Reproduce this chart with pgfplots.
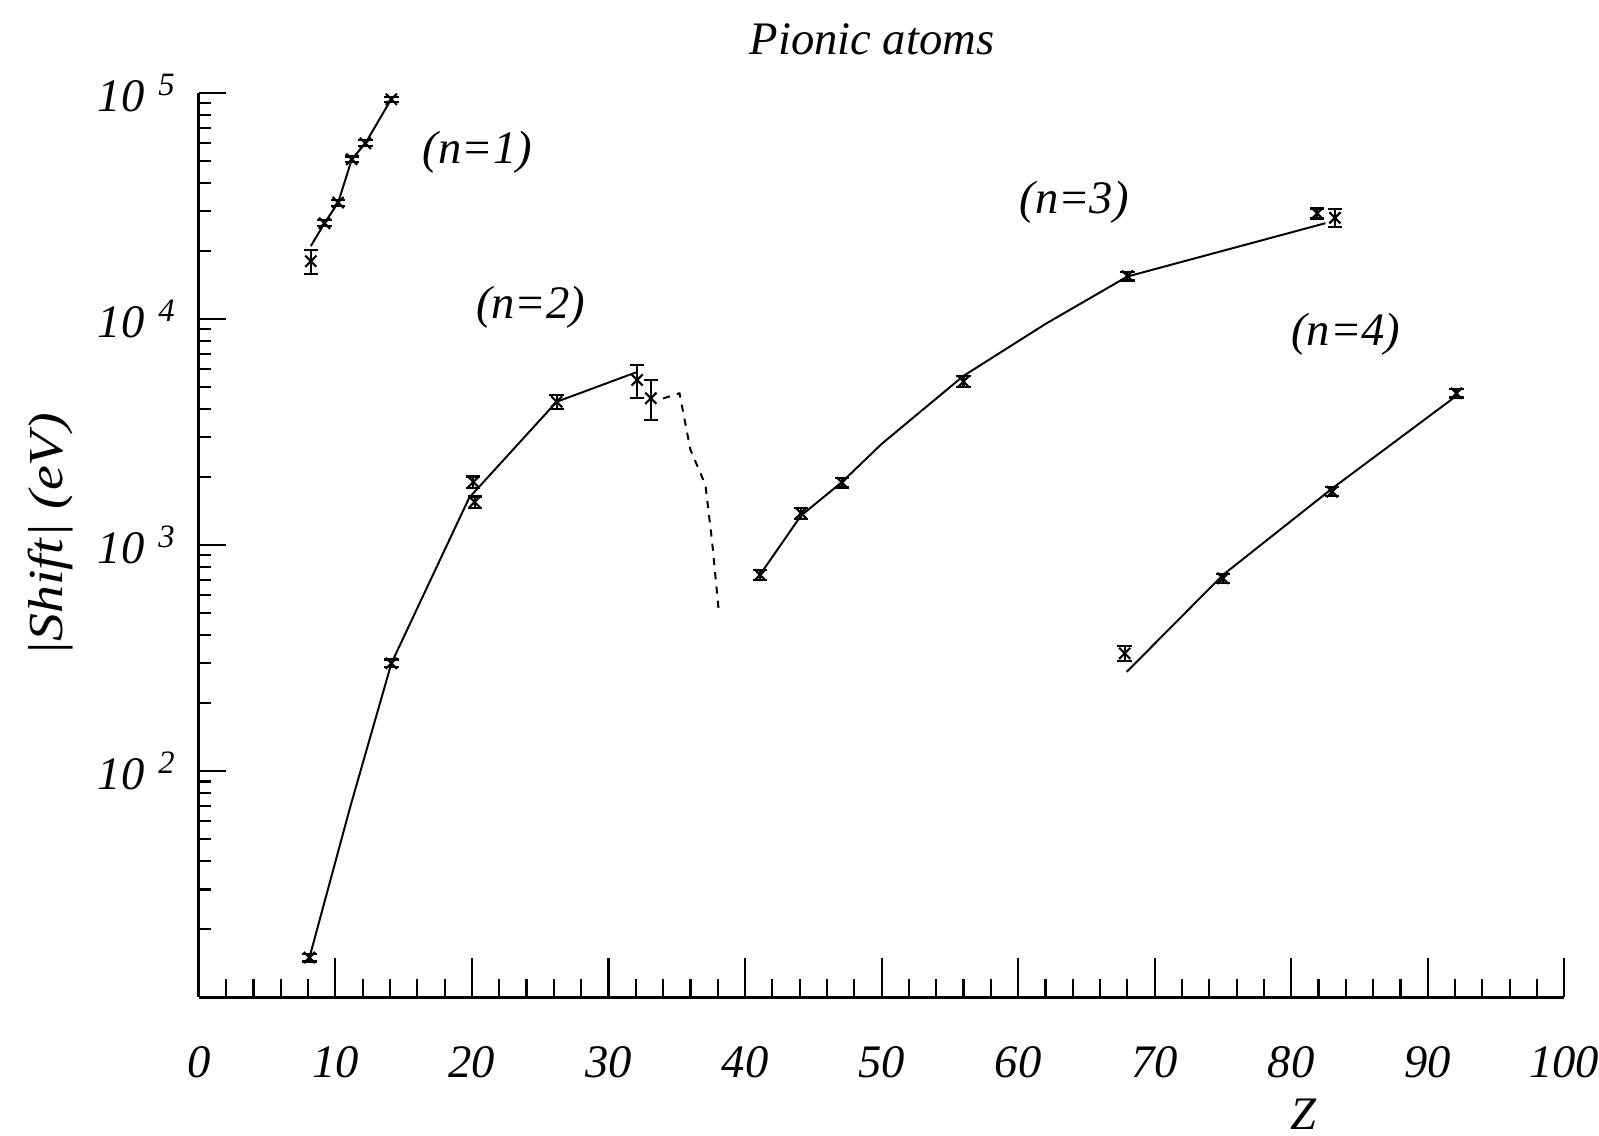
\documentclass[border=0pt]{standalone}
\usepackage{pgfplots}
\pgfplotsset{compat=1.18}
\usepackage{fontspec}
\setmainfont{Liberation Serif}

\pgfplotsset{
  theory/.style={black, line width=0.55pt, no marks},
  measured/.style={only marks, black, mark=x, mark size=2.2pt,
    mark options={line width=0.6pt},
    error bars/.cd, y dir=both, y explicit,
    error bar style={line width=0.6pt},
    error mark options={rotate=90, mark size=2pt, line width=0.6pt}},
}

\begin{document}
\begin{tikzpicture}[font=\fontsize{13}{15.6}\selectfont\itshape]
\useasboundingbox (-1.95cm,-1.35cm) rectangle (13.73cm,9.78cm);

% logarithmic |Shift| axis on the left
\begin{axis}[
  ymode=log,
  scale only axis, width=13.39cm, height=8.87cm,
  xmin=0, xmax=100, ymin=10, ymax=1e5,
  axis line style={line width=0.8pt},
  tick align=inside,
  tick style={line width=0.6pt, black},
  axis x line=none, axis y line*=left,
  ytick={10,100,1000,10000,100000},
  yticklabels={{},
    {10\hspace{0.3em}\textsuperscript{2}},
    {10\hspace{0.3em}\textsuperscript{3}},
    {10\hspace{0.3em}\textsuperscript{4}},
    {10\hspace{0.3em}\textsuperscript{5}}},
  major tick length=7.5pt, minor tick length=3.4pt,
  yticklabel style={xshift=-2.7pt},
]
\end{axis}

% Z axis and the four level families
\begin{axis}[
  ymode=log,
  scale only axis, width=13.39cm, height=8.87cm,
  xmin=0, xmax=100, ymin=10, ymax=1e5,
  axis line style={line width=0.8pt},
  tick align=inside,
  tick style={line width=0.6pt, black},
  axis y line=none, axis x line*=bottom,
  xtick={0,10,...,100}, minor x tick num=4,
  major tick length=11pt, minor tick length=5pt,
  xticklabel style={yshift=-10.3pt},
  /pgf/number format/assume math mode=true,
  clip=false,
]
% n = 1
\addplot[theory] coordinates {(8.2,21000) (9.2,26500) (10.2,32700) (11.2,50800) (12.2,59800) (14.1,94000)};
\addplot[measured] coordinates {
  (8.2,18000) +- (0,2250)
  (9.2,26500) +- (0,800)
  (10.2,32700) +- (0,1000)
  (11.2,50800) +- (0,1500)
  (12.2,59800) +- (0,1800)
  (14.1,93600) +- (0,2500)};

% n = 2
\addplot[theory] coordinates {(8.1,15) (11.1,70) (14.1,300) (19.8,1620) (26.2,4300) (32.0,5800)};
\addplot[black, line width=0.55pt, dash pattern=on 2pt off 2pt, no marks] coordinates {
  (34.0,4450) (35.2,4690) (36.0,2640) (37.1,1845) (37.6,1018) (38.1,491)};
\addplot[measured] coordinates {
  (8.1,15) +- (0,0.6)
  (14.1,300) +- (0,12)
  (20.1,1900) +- (0,110)
  (20.2,1550) +- (0,90)
  (26.2,4300) +- (0,300)
  (32.1,5370) +- (0,900)
  (33.1,4460) +- (0,900)};

% n = 3
\addplot[theory] coordinates {(41.1,740) (44.1,1350) (47.1,1900) (50,2800) (56,5600) (62,9500) (68,15400) (82.5,26500)};
\addplot[measured] coordinates {
  (41.1,738) +- (0,40)
  (44.1,1383) +- (0,80)
  (47.1,1888) +- (0,90)
  (56.0,5280) +- (0,300)
  (68.0,15480) +- (0,700)
  (81.9,29300) +- (0,1500)
  (83.2,28000) +- (0,2500)};

% n = 4
\addplot[theory] coordinates {(67.95,275) (75,738) (83,1780) (92.1,4570)};
\addplot[measured] coordinates {
  (67.8,332) +- (0,25)
  (75.0,713) +- (0,35)
  (83.0,1722) +- (0,80)
  (92.1,4690) +- (0,200)};

% annotations
\node at (axis cs:20.4,54800) {(n=1)};
\node at (axis cs:24.3,11300) {(n=2)};
\node at (axis cs:64.1,32700) {(n=3)};
\node at (axis cs:84.0,8550) {(n=4)};
\node at (rel axis cs:0.4929,1) [yshift=15pt] {Pionic atoms};
\node at (axis cs:80.9,10) [yshift=-1.15cm] {Z};
\node[rotate=90] at ([xshift=-1.45cm]rel axis cs:0,0.511) {\scalebox{1.2}[1.05]{|Shift| (eV)}};
\end{axis}
\end{tikzpicture}
\end{document}
